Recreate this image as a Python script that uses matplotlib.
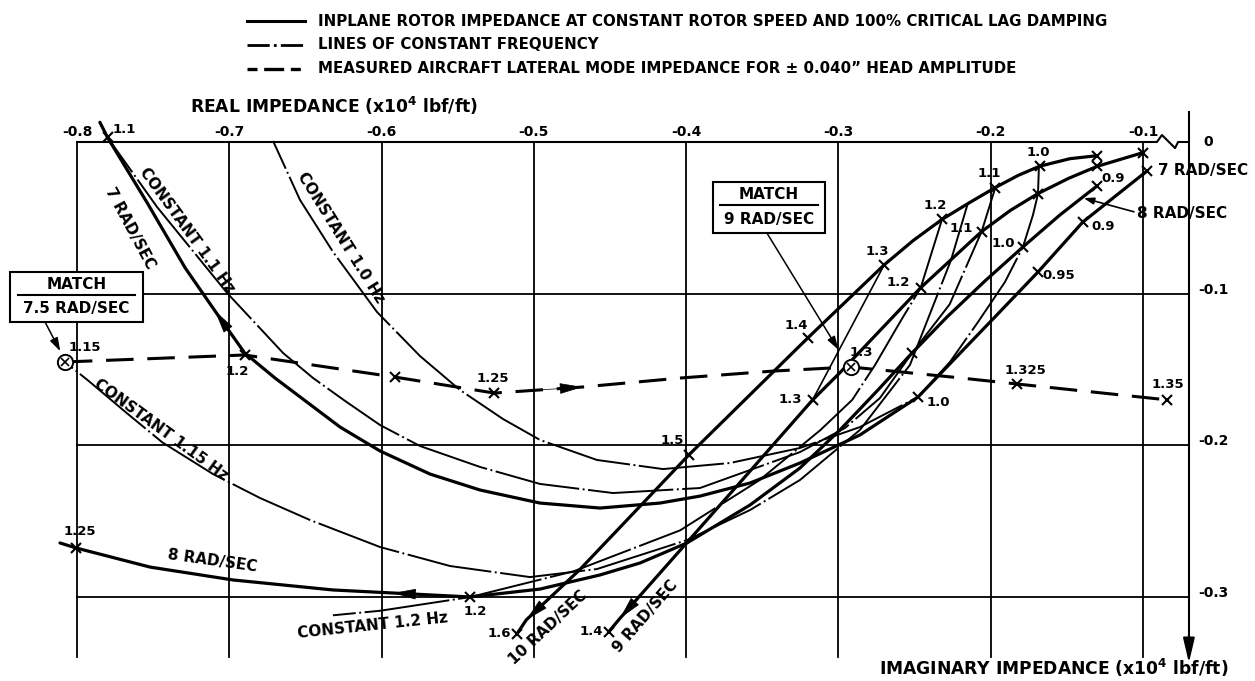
#!/usr/bin/env python3

import numpy as np
import matplotlib
matplotlib.use('Agg')
import matplotlib.pyplot as plt
from matplotlib.lines import Line2D
from matplotlib.patches import Rectangle

plt.rcParams['font.family'] = ['DejaVu Sans']
plt.rcParams['font.weight'] = 'bold'
plt.rcParams['mathtext.fontset'] = 'dejavusans'

######################### DATA #############################
### impedance in x10^4 lbf/ft (real, imaginary)
### hz lists: None = plain point, '' = unlabelled tick, text = frequency tick

real_ticks = [-0.8, -0.7, -0.6, -0.5, -0.4, -0.3, -0.2, -0.1]
imag_ticks = [0.0, -0.1, -0.2, -0.3]

### inplane rotor impedance, 10 rad/sec
r10_re = [-0.130, -0.148, -0.168, -0.182, -0.197, -0.214, -0.232, -0.251, -0.270, -0.320, -0.398, -0.470, -0.505, -0.511]
r10_im = [-0.009, -0.011, -0.016, -0.022, -0.030, -0.040, -0.051, -0.065, -0.081, -0.129, -0.206, -0.282, -0.315, -0.324]
r10_hz = ['', None, '1.0', None, '1.1', None, '1.2', None, '1.3', '1.4', '1.5', None, None, '1.6']

### 9 rad/sec
r9_re = [-0.100, -0.130, -0.149, -0.169, -0.187, -0.206, -0.246, -0.299, -0.317, -0.359, -0.4435, -0.451]
r9_im = [-0.007, -0.016, -0.024, -0.034, -0.045, -0.059, -0.096, -0.152, -0.170, -0.218, -0.314, -0.323]
r9_hz = ['', '0.9', None, '', None, '1.1', '1.2', None, '1.3', None, None, '1.4']

### 8 rad/sec
r8_re = [-0.1303, -0.1546, -0.1789, -0.2038, -0.2288, -0.2517, -0.2741, -0.299, -0.3253, -0.3581, -0.3995,
         -0.4303, -0.4566, -0.496, -0.542, -0.5925, -0.6319, -0.6976, -0.7521, -0.8007, -0.8112]
r8_im = [-0.029, -0.0481, -0.0692, -0.0916, -0.1154, -0.1391, -0.1635, -0.1898, -0.2149, -0.2393, -0.2643,
         -0.2775, -0.2854, -0.2947, -0.2999, -0.2973, -0.2953, -0.2887, -0.2802, -0.2676, -0.2643]
r8_hz = ['', None, '1.0', None, None, '', None, None, None, None, None,
         None, None, None, '1.2', None, None, None, None, '1.25', None]

### 7 rad/sec
r7_re = [-0.0974, -0.1395, -0.169, -0.1986, -0.2478, -0.2859, -0.3253, -0.3581, -0.3909, -0.4172, -0.4566, -0.496,
         -0.5354, -0.5682, -0.601, -0.6273, -0.6536, -0.670, -0.690, -0.7094, -0.729, -0.754, -0.780, -0.785]
r7_im = [-0.0191, -0.0527, -0.0857, -0.1167, -0.1681, -0.1931, -0.2116, -0.2248, -0.2334, -0.238, -0.2413, -0.238,
         -0.2294, -0.2189, -0.2037, -0.1879, -0.168, -0.1556, -0.139, -0.1114, -0.083, -0.040, 0.003, 0.013]
r7_hz = ['', '0.9', '0.95', None, '1.0', None, None, None, None, None, None, None,
         None, None, None, None, None, None, None, None, None, None, '1.1', None]

### lines of constant frequency
c100_re = [-0.1684, -0.169, -0.1723, -0.1789, -0.1907, -0.2084, -0.2268, -0.2478, -0.2859, -0.3253, -0.3712,
           -0.4152, -0.4586, -0.496, -0.5203, -0.5485, -0.5748, -0.603, -0.6319, -0.6536, -0.6713]
c100_im = [-0.0165, -0.0343, -0.0481, -0.0692, -0.0923, -0.1187, -0.145, -0.1681, -0.1879, -0.2017, -0.2116,
           -0.2156, -0.2096, -0.1964, -0.1826, -0.1635, -0.1411, -0.1121, -0.0725, -0.0382, 0.0007]

c110_re = [-0.197, -0.206, -0.227, -0.2517, -0.2728, -0.2957, -0.3253, -0.391, -0.448, -0.496, -0.5354,
           -0.5748, -0.601, -0.624, -0.645, -0.6647, -0.7015, -0.7475, -0.780]
c110_im = [-0.030, -0.059, -0.107, -0.1391, -0.1688, -0.1885, -0.2044, -0.2281, -0.2314, -0.2254, -0.2142,
           -0.2004, -0.1866, -0.1707, -0.1556, -0.1391, -0.0995, -0.0428, 0.003]

c115_re = [-0.215, -0.2261, -0.2531, -0.2859, -0.3253, -0.3581, -0.3995, -0.4586, -0.5026, -0.5551, -0.601,
           -0.647, -0.6798, -0.7107, -0.744, -0.767, -0.793, -0.808]
c115_im = [-0.0402, -0.0778, -0.147, -0.1898, -0.2228, -0.2426, -0.2624, -0.2815, -0.2868, -0.2795, -0.267,
           -0.2492, -0.2347, -0.2189, -0.198, -0.179, -0.157, -0.145]

c120_re = [-0.232, -0.246, -0.2596, -0.276, -0.291, -0.312, -0.352, -0.404, -0.474, -0.542, -0.601, -0.632]
c120_im = [-0.051, -0.096, -0.1187, -0.147, -0.170, -0.190, -0.223, -0.256, -0.283, -0.300, -0.309, -0.312]

c130_re = [-0.270, -0.317]
c130_im = [-0.081, -0.170]

### measured aircraft lateral mode impedance (+-0.040 in head amplitude)
ac_re = [-0.808, -0.690, -0.591, -0.526, -0.468, -0.404, -0.343, -0.292, -0.225, -0.183, -0.084]
ac_im = [-0.145, -0.1404, -0.155, -0.1655, -0.1615, -0.1556, -0.151, -0.1483, -0.155, -0.1595, -0.170]
ac_hz = ['1.15', '1.2', '', '1.25', None, None, None, '1.3', None, '1.325', '1.35']
ac_match = [0, 7]

######################### PLOT #############################

fig = plt.figure(figsize=(12.55, 6.81), dpi=100)
ax = fig.add_axes([0, 0, 1, 1])
ax.set_xlim(-0.8506, -0.0265)
ax.set_ylim(-0.3553, 0.0936)
ax.axis('off')

K = 'black'
axis_x = -0.0699          # position of the broken-off zero axis
grid_bottom = -0.3395

### grid
for x in real_ticks:
    ax.plot([x, x], [0, grid_bottom], color=K, lw=1.3, zorder=1)
    ax.text(x, 0.0066, '%.1f' % x, ha='center', va='center', fontsize=10)
for y in imag_ticks[1:]:
    ax.plot([real_ticks[0], axis_x], [y, y], color=K, lw=1.3, zorder=1)
    ax.text(axis_x + 0.006, y + 0.0027, '%.1f' % y, ha='left', va='center', fontsize=10)
ax.text(axis_x + 0.0095, 0, '0', ha='left', va='center', fontsize=10)

### top axis with break, and the zero axis on the right
ax.plot([real_ticks[0], -0.1, -0.0909, -0.0876, -0.079, -0.077, axis_x],
        [0, 0, 0, 0.0046, -0.004, 0, 0], color=K, lw=1.5, zorder=2)
ax.plot([axis_x, axis_x], [0.0198, -0.33], color=K, lw=1.5, zorder=2)
ax.annotate('', xy=(axis_x, -0.3434), xytext=(axis_x, -0.325),
            arrowprops=dict(arrowstyle='-|>,head_length=1.5,head_width=0.35',
                            color=K, lw=1.5, shrinkA=0, shrinkB=0))


def arrow_at(re, im, i, back=0.3):
    tip = np.array([re[i], im[i]])
    prev = np.array([re[i - 1], im[i - 1]])
    tail = tip + (prev - tip) * back
    ax.annotate('', xy=tip, xytext=tail,
                arrowprops=dict(arrowstyle='-|>,head_length=1.5,head_width=0.35',
                                color=K, lw=0.5, shrinkA=0, shrinkB=0), zorder=5)


def ticks(re, im, hz, offs, fs=9.5):
    k = 0
    for x, y, h in zip(re, im, hz):
        if h is None:
            continue
        ax.plot(x, y, marker='x', ms=7, mew=1.5, color=K, zorder=4)
        if h:
            dx, dy = offs[k]
            k += 1
            ax.annotate(h, (x, y), xytext=(dx, dy), textcoords='offset pixels',
                        ha='center', va='center', fontsize=fs)


thick = dict(color=K, lw=2.3, solid_capstyle='round', solid_joinstyle='round', zorder=3)
dashdot = dict(color=K, lw=1.4, dashes=(44, 1.8, 1, 1.8), zorder=2)

### rotor impedance curves
ax.plot(r10_re, r10_im, **thick)
ticks(r10_re, r10_im, r10_hz, [(-1, 14), (-6, 14), (-7, 14), (-7, 13), (-12, 12), (-17, 14), (-18, 0)])
arrow_at(r10_re, r10_im, 12)

ax.plot(r9_re, r9_im, **thick)
ticks(r9_re, r9_im, r9_hz, [(16, -12), (-20, 3), (-22, 5), (-22, 0), (-17, 0)])
arrow_at(r9_re, r9_im, 10)

ax.plot(r8_re, r8_im, **thick)
ticks(r8_re, r8_im, r8_hz, [(-20, 3), (5, -15), (4, 16)])
arrow_at(r8_re, r8_im, 15)

ax.plot(r7_re, r7_im, **thick)
ticks(r7_re, r7_im, r7_hz, [(20, -5), (21, -3), (20, -5), (17, 8)])
arrow_at(r7_re, r7_im, 19)

### constant frequency lines
ax.plot(c100_re, c100_im, **dashdot)
ax.plot(c110_re, c110_im, **dashdot)
ax.plot(c115_re, c115_im, **dashdot)
ax.plot(c120_re, c120_im, **dashdot)
ax.plot(c130_re, c130_im, color=K, lw=1.2, zorder=2)

### measured aircraft impedance
ax.plot(ac_re, ac_im, color=K, lw=2.2, dashes=(9, 4.5), zorder=3)
arrow_at(ac_re, ac_im, 4, back=0.45)
k = 0
ac_offs = [(20, 14), (-7, -17), (-2, 15), (11, 14), (9, 13), (0, 15)]
for i, (x, y, h) in enumerate(zip(ac_re, ac_im, ac_hz)):
    if h is None:
        continue
    if i in ac_match:
        ax.plot(x, y, marker='o', ms=11, mfc='white', mec=K, mew=1.4, zorder=6)
        ax.plot(x, y, marker='x', ms=6, mew=1.2, color=K, zorder=7)
    else:
        ax.plot(x, y, marker='x', ms=7, mew=1.5, color=K, zorder=4)
    if h:
        ax.annotate(h, (x, y), xytext=ac_offs[k], textcoords='offset pixels',
                    ha='center', va='center', fontsize=9.5)
        k += 1

### curve names
ax.text(-0.765, -0.057, '7 RAD/SEC', rotation=-62, ha='center', va='center', fontsize=11)
ax.text(-0.728, -0.058, 'CONSTANT 1.1 Hz', rotation=-54, ha='center', va='center', fontsize=11)
ax.text(-0.627, -0.063, 'CONSTANT 1.0 Hz', rotation=-58, ha='center', va='center', fontsize=11)
ax.text(-0.745, -0.190, 'CONSTANT 1.15 Hz', rotation=-36, ha='center', va='center', fontsize=11)
ax.text(-0.606, -0.319, 'CONSTANT 1.2 Hz', rotation=6, ha='center', va='center', fontsize=11)
ax.text(-0.711, -0.276, '8 RAD/SEC', rotation=-8, ha='center', va='center', fontsize=11)
ax.text(-0.491, -0.320, '10 RAD/SEC', rotation=43, ha='center', va='center', fontsize=11)
ax.text(-0.427, -0.313, '9 RAD/SEC', rotation=49, ha='center', va='center', fontsize=11)
ax.text(-0.090, -0.019, '7 RAD/SEC', ha='left', va='center', fontsize=11)
ax.text(-0.104, -0.047, '8 RAD/SEC', ha='left', va='center', fontsize=11)
ax.annotate('', xy=(-0.139, -0.037), xytext=(-0.106, -0.046),
            arrowprops=dict(arrowstyle='-|>,head_length=0.6,head_width=0.2',
                            color=K, lw=1.2, shrinkA=0, shrinkB=0))

### match boxes
def match_box(x0, y0, x1, y1, speed, tip, tail):
    ax.add_patch(Rectangle((x0, y1), x1 - x0, y0 - y1, fc='white', ec=K, lw=1.5, zorder=8))
    xm = (x0 + x1) / 2
    h = y0 - y1
    ax.text(xm, y0 - 0.24 * h, 'MATCH', ha='center', va='center', fontsize=11, zorder=9)
    ax.plot([x0 + 0.06 * (x1 - x0), x1 - 0.06 * (x1 - x0)], [y0 - 0.45 * h] * 2, color=K, lw=1.5, zorder=9)
    ax.text(xm, y0 - 0.73 * h, speed, ha='center', va='center', fontsize=11, zorder=9)
    ax.annotate('', xy=tip, xytext=tail,
                arrowprops=dict(arrowstyle='-|>,head_length=0.8,head_width=0.25',
                                color=K, lw=1.1, shrinkA=0, shrinkB=0), zorder=8)

match_box(-0.844, -0.0857, -0.757, -0.1187, '7.5 RAD/SEC', (-0.811, -0.138), (-0.821, -0.1187))
match_box(-0.3824, -0.0264, -0.3089, -0.060, '9 RAD/SEC', (-0.300, -0.137), (-0.347, -0.060))

### axis titles
fig.text(0.151, 0.844, r'REAL IMPEDANCE (x10$^{\mathbf{4}}$ lbf/ft)', ha='left', va='center', fontsize=12.3)
fig.text(0.9785, 0.003, r'IMAGINARY IMPEDANCE (x10$^{\mathbf{4}}$ lbf/ft)', ha='right', va='bottom', fontsize=12.3)

### key
key_y = [0.969, 0.934, 0.899]
key_txt = ['INPLANE ROTOR IMPEDANCE AT CONSTANT ROTOR SPEED AND 100% CRITICAL LAG DAMPING',
           'LINES OF CONSTANT FREQUENCY',
           'MEASURED AIRCRAFT LATERAL MODE IMPEDANCE FOR \u00b1 0.040\u201d HEAD AMPLITUDE']
key_style = [dict(lw=2.2), dict(lw=2.0, dashes=(8, 1.5, 1, 1.5)), dict(lw=2.4, dashes=(3, 2, 6, 2))]
for y, t, st in zip(key_y, key_txt, key_style):
    fig.add_artist(Line2D([0.197, 0.243], [y, y], color=K, transform=fig.transFigure, **st))
    fig.text(0.253, y, t, ha='left', va='center', fontsize=10.8)

fig.savefig('out.png', dpi=100)
